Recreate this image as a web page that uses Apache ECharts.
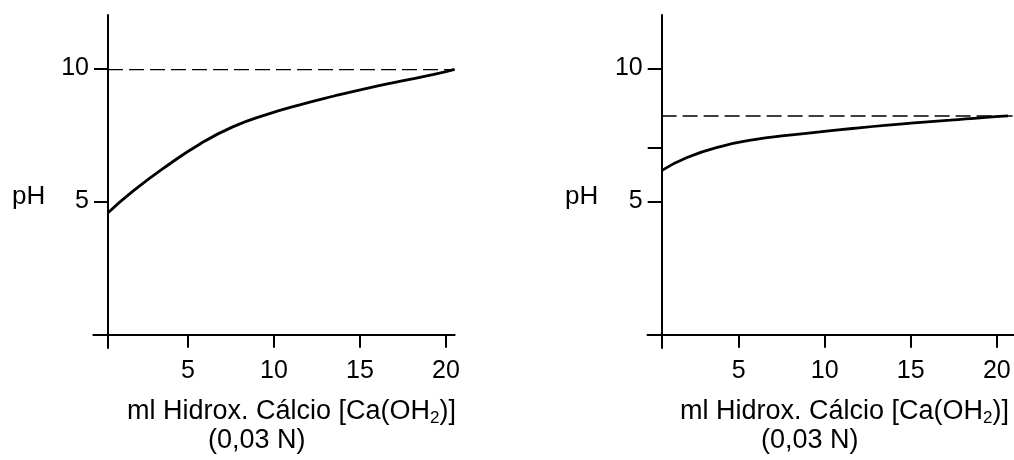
<!DOCTYPE html>
<html>
<head>
<meta charset="utf-8">
<script src="https://cdn.jsdelivr.net/npm/echarts@6/dist/echarts.min.js"></script>
<style>
  html, body { margin: 0; padding: 0; background: #fff; }
  #chart { width: 1014px; height: 460px; }
</style>
</head>
<body>
<div id="chart"></div>
<script>
  // curva da esquerda (pH inicial ~4,6)
  var leftDose = [0.35, 1.8, 3.8, 5.7, 7.6, 9.6, 11.5, 13.5, 15.4, 17.3, 19.3, 20.5]
  var leftPH = [4.58, 5.39, 6.35, 7.16, 7.8, 8.27, 8.63, 8.96, 9.25, 9.51, 9.77, 9.96]
  // curva da direita (pH inicial ~6,2)
  var rightDose = [0.52, 2.0, 4.0, 5.9, 7.8, 9.7, 11.6, 13.5, 15.4, 17.3, 19.2, 20.65]
  var rightPH = [6.16, 6.65, 7.07, 7.32, 7.48, 7.61, 7.74, 7.86, 7.96, 8.05, 8.15, 8.21]
  // linhas tracejadas de referencia
  var leftRefX = [0.35, 20.5]
  var leftRefY = [9.95, 9.95]
  var rightRefX = [0.52, 21]
  var rightRefY = [8.21, 8.21]
  // ticks
  var xTicks = [5, 10, 15, 20]
  var yLabels = [5, 10]
  var leftYTicks = [5, 10]
  var rightYTicks = [5, 7, 10]

  function zip(xs, ys) {
    return xs.map(function (x, i) { return [x, ys[i]] })
  }

  var font = 'Liberation Sans'

  function xAxisOf(idx, min, max) {
    return {
      type: 'value',
      gridIndex: idx,
      min: min,
      max: max,
      axisLine: { onZero: true, lineStyle: { color: '#000', width: 2 } },
      axisTick: { customValues: xTicks, length: 13, lineStyle: { color: '#000', width: 2 } },
      axisLabel: { customValues: xTicks, fontSize: 25, color: '#000', margin: 11, fontFamily: font },
      splitLine: { show: false }
    }
  }

  function yAxisOf(idx, offset, ticks) {
    return {
      type: 'value',
      gridIndex: idx,
      min: -0.5,
      max: 12,
      offset: offset,
      axisLine: { onZero: false, lineStyle: { color: '#000', width: 2 } },
      axisTick: { customValues: ticks, length: 14, lineStyle: { color: '#000', width: 2 } },
      axisLabel: { customValues: yLabels, fontSize: 25, color: '#000', margin: 19, fontFamily: font },
      splitLine: { show: false }
    }
  }

  function curve(idx, data) {
    return {
      type: 'line',
      xAxisIndex: idx,
      yAxisIndex: idx,
      data: data,
      smooth: 0.5,
      showSymbol: false,
      lineStyle: { color: '#000', width: 2.8 }
    }
  }

  function refLine(idx, data) {
    return {
      type: 'line',
      xAxisIndex: idx,
      yAxisIndex: idx,
      data: data,
      showSymbol: false,
      lineStyle: { color: '#000', width: 1.4, type: [15, 6] }
    }
  }

  var titleRich = {
    t: { fontSize: 27, fontFamily: font, color: '#000', lineHeight: 30 },
    s: { fontSize: 17, fontFamily: font, color: '#000', lineHeight: 17, verticalAlign: 'bottom' }
  }
  var titleText = '{t|ml Hidrox. Cálcio [Ca(OH}{s|2}{t|)]}'

  function labels(x0, pHx) {
    return [
      { type: 'text', x: pHx, y: 197, style: { text: 'pH', fontSize: 26, fontFamily: font, fill: '#000', verticalAlign: 'middle' } },
      { type: 'text', x: x0, y: 412, style: { text: titleText, rich: titleRich, verticalAlign: 'middle' } },
      { type: 'text', x: x0 + 81, y: 441, style: { text: '(0,03 N)', fontSize: 27, fontFamily: font, fill: '#000', verticalAlign: 'middle' } }
    ]
  }

  var chart = echarts.init(document.getElementById('chart'))
  chart.setOption({
    animation: false,
    backgroundColor: '#fff',
    grid: [
      { left: 93.4, top: 15, width: 361.2, height: 333 },
      { left: 647.5, top: 15, width: 372, height: 333 }
    ],
    xAxis: [xAxisOf(0, -0.5, 20.5), xAxisOf(1, -0.3, 21)],
    yAxis: [yAxisOf(0, -14.6, leftYTicks), yAxisOf(1, -14.2, rightYTicks)],
    series: [
      curve(0, zip(leftDose, leftPH)),
      refLine(0, zip(leftRefX, leftRefY)),
      curve(1, zip(rightDose, rightPH)),
      refLine(1, zip(rightRefX, rightRefY))
    ],
    graphic: labels(127, 12).concat(labels(680, 565))
  })
</script>
</body>
</html>
